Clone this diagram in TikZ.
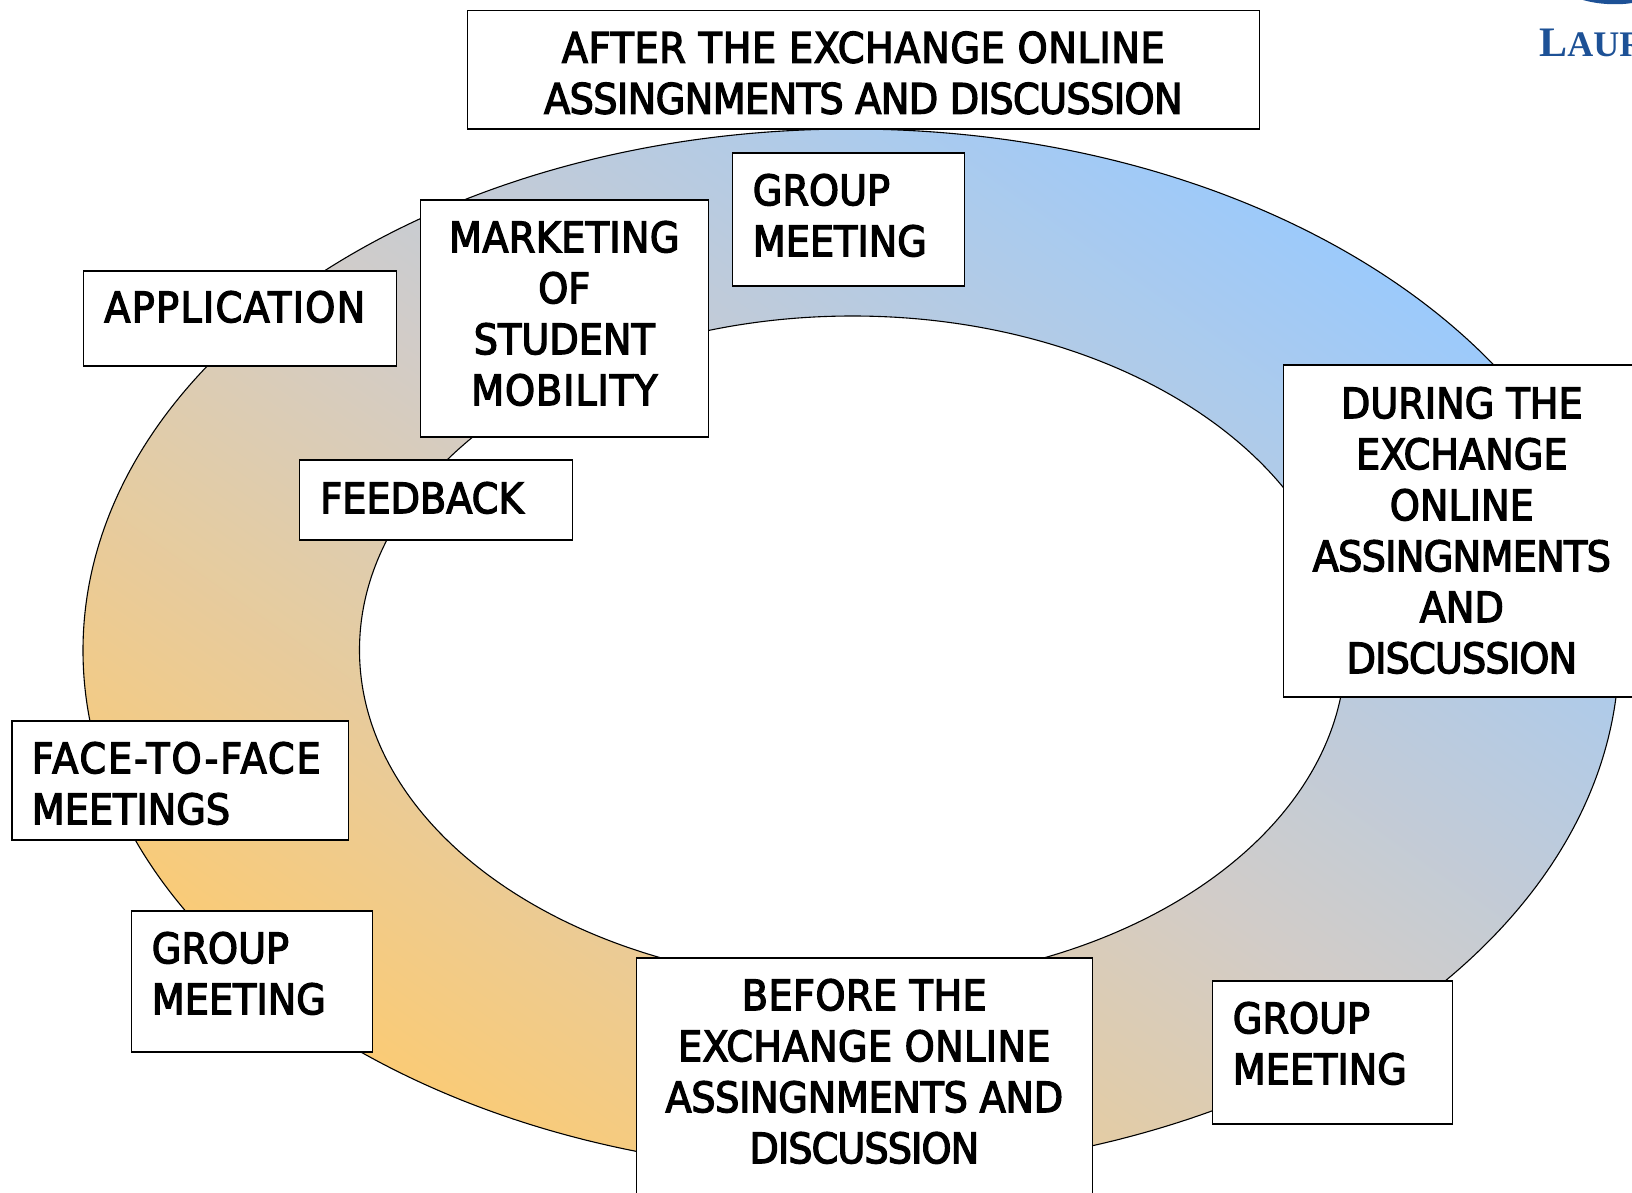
\documentclass[tikz,border=0pt]{standalone}
\usepackage{fontspec}
\setmainfont[FakeStretch=0.91,FakeBold=3]{DejaVu Sans}
\newfontfamily\logofont{Liberation Serif}[BoldFont={Liberation Serif Bold}]
\definecolor{ringorange}{HTML}{FBCB74}
\definecolor{ringmid}{HTML}{D2CCC8}
\definecolor{ringblue}{HTML}{9BCAFC}
\definecolor{logoblue}{HTML}{1D5196}
\newcommand{\tr}[2]{{\addfontfeature{LetterSpace=#1}#2}}
% name, x0, y0, x1, y1, left inset, top inset, alignment, text
\newcommand{\labelbox}[9]{%
  \pgfmathsetlengthmacro{\boxw}{(#4-#2)*0.5pt}%
  \pgfmathsetlengthmacro{\boxh}{(#5-#3)*0.5pt}%
  \pgfmathsetlengthmacro{\boxl}{#6*0.5pt}%
  \pgfmathsetlengthmacro{\boxt}{#7*0.5pt}%
  \pgfmathsetlengthmacro{\boxi}{\boxw-\boxl}%
  \node[labelstyle] (#1) at (#2+0.3,#3) {\parbox[c][\boxh][t]{\boxw}{\vspace*{\boxt}\hspace*{\boxl}\parbox[t]{\boxi}{#8 #9}}};%
}
\tikzset{
  labelstyle/.style={draw=black,fill=white,line width=0.75pt,inner sep=0pt,outer sep=0pt,anchor=north west,
    font=\fontsize{21}{25.5}\selectfont},
  ringline/.style={draw=black,line width=0.55pt}
}
\begin{document}
\begin{tikzpicture}[x=0.5pt,y=-0.5pt]
\useasboundingbox (0,0) rectangle (1632,1193);
\coordinate (ringcentre) at (851,650.5);
\coordinate (holecentre) at (852.5,650);
\path[ringline,left color=ringblue,right color=ringorange,middle color=ringmid,shading angle=-35]
  (ringcentre) ellipse [x radius=768,y radius=521.5];
\path[ringline,fill=white] (holecentre) ellipse [x radius=493,y radius=334];
\labelbox{after}{467}{10.5}{1259}{129}{0}{21}{\centering}{\tr{1.5}{AFTER THE EXCHANGE ONLINE}\\\tr{-1.4}{ASSINGNMENTS AND DISCUSSION}}
\labelbox{groupa}{732}{153}{964}{286}{20.5}{21}{\raggedright}{GROUP\\MEETING}
\labelbox{marketing}{420}{200}{708}{437}{0}{21}{\centering}{\tr{0.8}{MARKETING}\\OF\\STUDENT\\\tr{2.2}{MOBILITY}}
\labelbox{application}{83}{271}{396}{366}{21}{20}{\raggedright}{\tr{3.1}{APPLICATION}}
\labelbox{feedback}{299}{460}{572}{540}{21}{22}{\raggedright}{FEEDBACK}
\labelbox{during}{1283}{365}{1640}{697}{0}{22}{\centering}{DURING THE\\EXCHANGE\\ONLINE\\\tr{-1.7}{ASSINGNMENTS}\\AND\\\tr{-2}{DISCUSSION}}
\labelbox{face}{11.5}{721}{348}{840}{20}{21}{\raggedright}{\tr{4.5}{FACE-TO-FACE}\\MEETINGS}
\labelbox{groupb}{131}{911}{372}{1052}{20.5}{21}{\raggedright}{GROUP\\MEETING}
\labelbox{before}{636}{958}{1092}{1200}{0}{21}{\centering}{\tr{1}{BEFORE THE}\\\tr{0.9}{EXCHANGE ONLINE}\\\tr{-0.8}{ASSINGNMENTS AND}\\\tr{-2.2}{DISCUSSION}}
\labelbox{groupc}{1212}{981}{1452}{1124}{20.5}{21}{\raggedright}{GROUP\\MEETING}
\node[anchor=base west,inner sep=0pt,text=logoblue,font=\logofont\bfseries] (logo) at (1539,57)
  {{\fontsize{21}{21}\selectfont L}{\fontsize{18}{18}\selectfont AUR}};
\fill[logoblue] (1583,0) .. controls (1600,5) and (1620,5) .. (1632,3) -- (1632,0) -- cycle;
\end{tikzpicture}
\end{document}
